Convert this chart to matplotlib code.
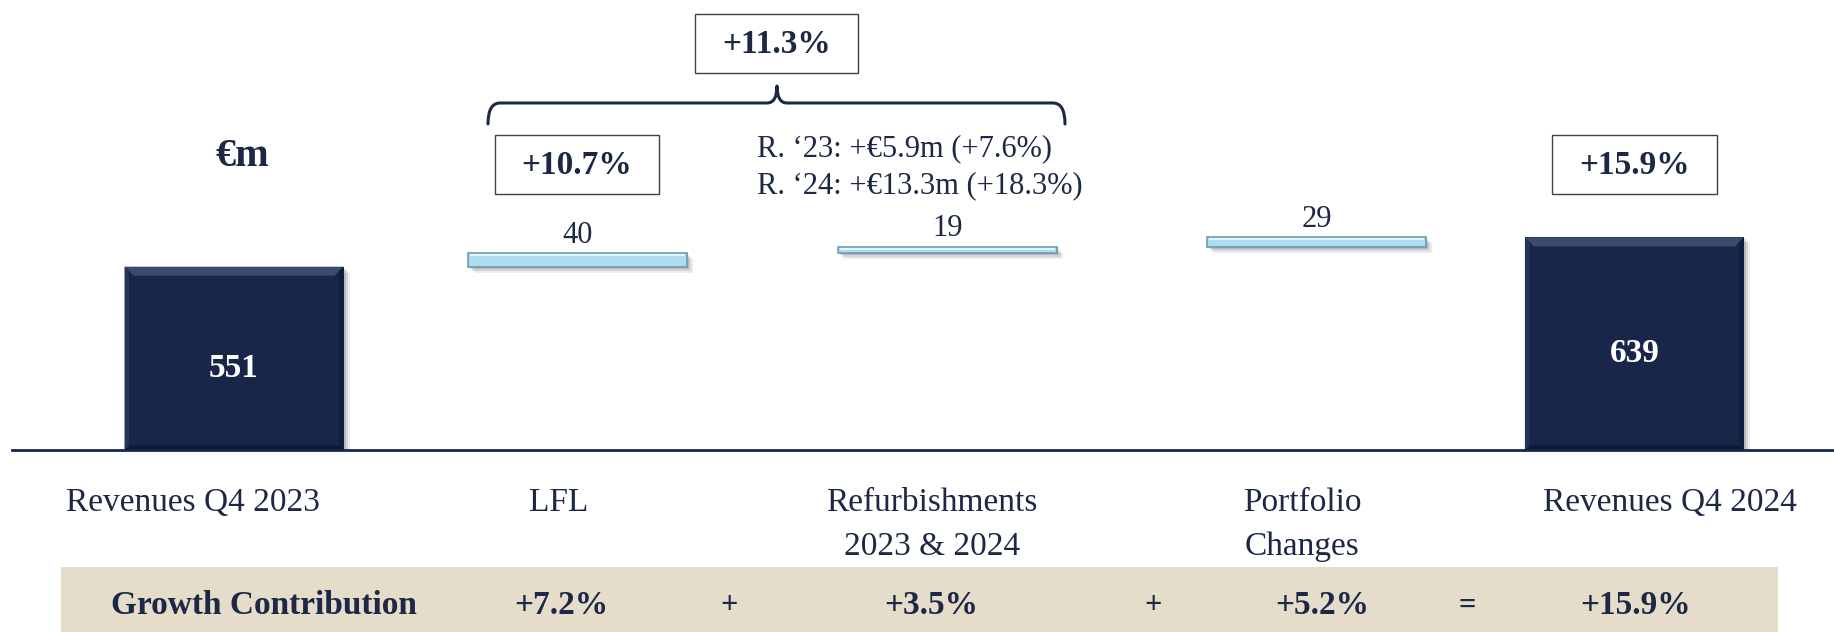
import matplotlib
matplotlib.use("Agg")
import matplotlib.pyplot as plt
from matplotlib.patches import Rectangle, Polygon, PathPatch
from matplotlib.path import Path
import matplotlib.transforms as mtransforms

# ---- data -------------------------------------------------------------
categories = ["Revenues Q4 2023", "LFL", "Refurbishments\n2023 & 2024",
              "Portfolio\nChanges", "Revenues Q4 2024"]
start_value = 551
increments = [40, 19, 29]
end_value = 639
bar_labels = ["551", "40", "19", "29", "639"]
lfl_growth = "+10.7%"
organic_growth = "+11.3%"
total_growth = "+15.9%"
refurb_notes = ["R. \u201823: +\u20ac5.9m (+7.6%)", "R. \u201824: +\u20ac13.3m (+18.3%)"]
unit_label = "\u20acm"
contrib_title = "Growth Contribution"
contrib_values = ["+7.2%", "+3.5%", "+5.2%", "+15.9%"]
contrib_ops = ["+", "+", "="]

# ---- style ------------------------------------------------------------
NAVY = "#18264a"
TEXT = "#1c2846"
LIGHT = "#aedcf0"
LIGHT_EDGE = "#6e9ab4"
BAND = "#e5ddca"
FONT = "Liberation Serif"

W, H = 1834, 632
fig = plt.figure(figsize=(W / 100, H / 100), dpi=100)

# overlay in pixel coordinates for annotations
ov = fig.add_axes([0, 0, 1, 1], zorder=0)
ov.set_xlim(0, W)
ov.set_ylim(H, 0)
ov.axis("off")

# bar axes: value scale in EUR m
base_px = 450
px_per_unit = 0.3327
unit_px = 369.5
origin_px = 234
ax = fig.add_axes([0, (H - base_px) / H, 1, base_px / H], zorder=1)
ax.patch.set_alpha(0)
ax.set_ylim(0, base_px / px_per_unit)
ax.set_xlim(-origin_px / unit_px, (W - origin_px) / unit_px)
ax.axis("off")

xpos = [0.0, 0.93, 1.93, 2.93, 3.79]
width = 219 / unit_px
dx = 1 / unit_px            # one pixel in x data units
dy = 1 / px_per_unit        # one pixel in y data units

# waterfall geometry from the values
bottoms, heights = [0], [start_value]
level = start_value
for inc in increments:
    bottoms.append(level)
    heights.append(inc)
    level += inc
bottoms.append(0)
heights.append(end_value)


def shadow(x0, b, h):
    for k, a in [(6, 0.08), (4, 0.12), (2, 0.16)]:
        tr = mtransforms.offset_copy(ax.transData, fig=fig, x=k, y=-k, units="dots")
        ax.add_patch(Rectangle((x0, b), width, h, transform=tr,
                               facecolor="#202020", alpha=a, lw=0, zorder=1))


for i, (x, b, h) in enumerate(zip(xpos, bottoms, heights)):
    x0 = x - width / 2
    x1 = x + width / 2
    total = i in (0, len(xpos) - 1)
    shadow(x0, b, h)
    if total:
        ax.bar(x, h, width=width, bottom=b, color=NAVY, lw=0, zorder=2)
        bv, bvy = 9 * dx, 9 * dy
        top = b + h
        ax.add_patch(Polygon([(x0, top), (x1, top), (x1 - bv, top - bvy), (x0 + bv, top - bvy)],
                             closed=True, facecolor="#3a4a6c", lw=0, zorder=3))
        ax.add_patch(Polygon([(x0, top), (x0 + bv * 0.5, top - bvy * 0.5), (x0 + bv * 0.5, b + bvy * 0.5), (x0, b)],
                             closed=True, facecolor="#25345a", lw=0, zorder=3))
        ax.add_patch(Polygon([(x1, top), (x1 - bv * 0.5, top - bvy * 0.5), (x1 - bv * 0.5, b + bvy * 0.5), (x1, b)],
                             closed=True, facecolor="#111d3a", lw=0, zorder=3))
        ax.add_patch(Polygon([(x0, b), (x1, b), (x1 - bv * 0.5, b + bvy * 0.5), (x0 + bv * 0.5, b + bvy * 0.5)],
                             closed=True, facecolor="#0f1a34", lw=0, zorder=3))
        ax.annotate(bar_labels[i], (x, b + h / 2), xytext=(0, -7), textcoords="offset points",
                    ha="center", va="center", color="white", fontsize=24,
                    fontweight="bold", family=FONT, zorder=5)
    else:
        ax.bar(x, h, width=width, bottom=b, color=LIGHT, edgecolor=LIGHT_EDGE,
               lw=1.2, zorder=2)
        ax.plot([x0 + 2 * dx, x1 - 2 * dx], [b + h - 2 * dy] * 2, color="#e2f6fd",
                lw=1.5, zorder=3, solid_capstyle="butt")
        ax.annotate(bar_labels[i], (x, b + h), xytext=(0, 13), textcoords="offset points",
                    ha="center", va="center", color=TEXT, fontsize=22, family=FONT, zorder=5)

# horizontal base line
ax.plot([(12 - origin_px) / unit_px, (W - origin_px) / unit_px], [0, 0],
        color=NAVY, lw=2, clip_on=False, zorder=4)

# unit label
ov.text(242, 156, unit_label, ha="center", va="center", fontsize=29,
        fontweight="bold", color=TEXT, family=FONT)


def boxed(xc, yc, w, h, s):
    ov.add_patch(Rectangle((xc - w / 2, yc - h / 2), w, h, facecolor="white",
                           edgecolor="#404040", lw=1.0, zorder=3))
    ov.text(xc, yc + 1, s, ha="center", va="center", fontsize=24, fontweight="bold",
            color=TEXT, family=FONT, zorder=4)


boxed(776.5, 43.5, 163, 59, organic_growth)
boxed(577, 164.5, 164, 59, lfl_growth)
boxed(1634.5, 164.5, 165, 59, total_growth)

# curly brace spanning LFL + refurbishments
verts = [(488, 124), (488, 103), (500, 103),
         (767, 103), (777, 103), (777, 86),
         (777, 103), (787, 103),
         (1053, 103), (1065, 103), (1065, 124)]
codes = [Path.MOVETO, Path.CURVE3, Path.CURVE3,
         Path.LINETO, Path.CURVE3, Path.CURVE3,
         Path.CURVE3, Path.CURVE3,
         Path.LINETO, Path.CURVE3, Path.CURVE3]
ov.add_patch(PathPatch(Path(verts, codes), facecolor="none", edgecolor=TEXT, lw=2.2,
                       capstyle="round", joinstyle="round"))

# refurbishment notes
for k, s in enumerate(refurb_notes):
    ov.text(757, 149 + 37 * k, s, ha="left", va="center", fontsize=22,
            color=TEXT, family=FONT)

# category labels, one text per line so the first lines share a row
label_x = [193, 559, 932, 1302, 1670]
line_step = 44
for xl, s in zip(label_x, categories):
    for k, line in enumerate(s.split("\n")):
        ov.text(xl, 503 + line_step * k, line, ha="center", va="center",
                fontsize=24, color=TEXT, family=FONT)

# growth contribution row
ov.add_patch(Rectangle((61, 567), 1717, 70, facecolor=BAND, lw=0, zorder=0))
row_y = 606
ov.text(264, row_y, contrib_title, ha="center", va="center", fontsize=24,
        fontweight="bold", color=TEXT, family=FONT)
val_x = [561, 931, 1322, 1636]
op_x = [729, 1153, 1467]
for xv, s in zip(val_x, contrib_values):
    ov.text(xv, row_y, s, ha="center", va="center", fontsize=24,
            fontweight="bold", color=TEXT, family=FONT)
for xo, s in zip(op_x, contrib_ops):
    ov.text(xo, row_y, s, ha="center", va="center", fontsize=22,
            fontweight="bold", color=TEXT, family=FONT)

fig.savefig("out.png", dpi=100, facecolor="white")
